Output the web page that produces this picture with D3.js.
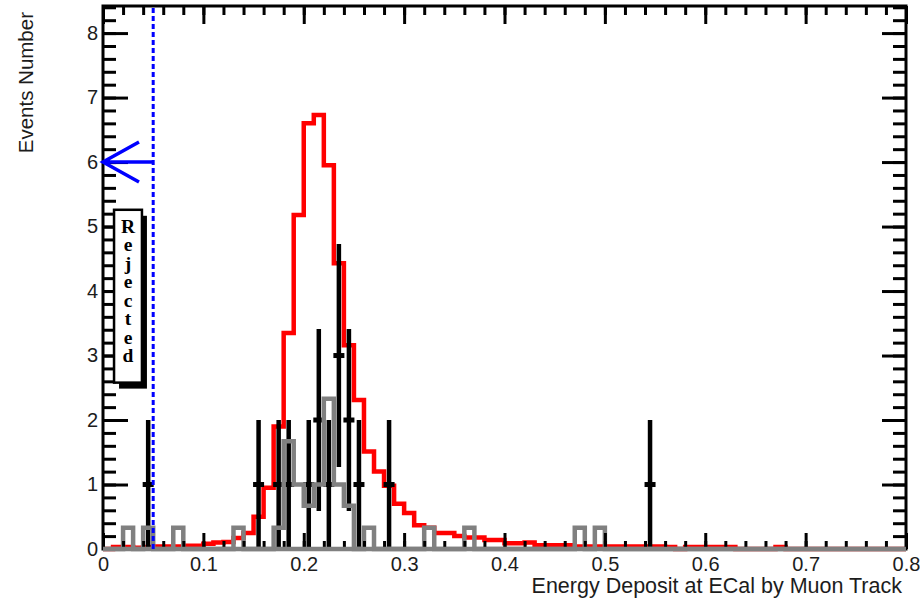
<!DOCTYPE html>
<html><head><meta charset="utf-8">
<script src="https://cdn.jsdelivr.net/npm/d3@7"></script>
<style>
body{margin:0;background:#fff}
svg{display:block}
text{font-family:"Liberation Sans",Arial,sans-serif;fill:#1c1c1c}
</style>
</head><body>
<svg id="chart" width="920" height="600"></svg>
<script>
// ---------------- data ----------------
const xTickValues = [0, 0.1, 0.2, 0.3, 0.4, 0.5, 0.6, 0.7, 0.8];
const xTickLabels = ["0", "0.1", "0.2", "0.3", "0.4", "0.5", "0.6", "0.7", "0.8"];
const yTickValues = [0, 1, 2, 3, 4, 5, 6, 7, 8];
const yTickLabels = ["0", "1", "2", "3", "4", "5", "6", "7", "8"];

// signal MC (red), bin width 0.01, bins starting at 0.00 ... 0.79
const signalValues = [
  0, 0.03, 0.03, 0.02, 0.03, 0.04, 0.04, 0.04, 0.05, 0.05,
  0.08, 0.10, 0.11, 0.17, 0.25, 0.50, 0.95, 1.90, 3.35, 5.18,
  6.60, 6.73, 5.95, 4.43, 3.16, 2.31, 1.51, 1.20, 0.98, 0.70,
  0.56, 0.37, 0.33, 0.25, 0.25, 0.20, 0.18, 0.18, 0.14, 0.14,
  0.09, 0.09, 0.10, 0.06, 0.06, 0.06, 0.06, 0.04, 0.04, 0.04,
  0.04, 0.04, 0.04, 0.04, 0.04, 0.04, 0.03, 0, 0.03, 0.03,
  0.03, 0.03, 0.03, 0, 0, 0, 0, 0.03, 0, 0,
  0, 0, 0, 0, 0, 0, 0, 0, 0, 0
];
// background MC (grey), bin width 0.01, bins starting at 0.00 ... 0.79
const backgroundValues = [
  0, 0, 0.33, 0, 0.33, 0, 0, 0.33, 0, 0,
  0, 0, 0, 0.33, 0, 0, 0, 0.33, 1.67, 1.00,
  0.67, 1.00, 2.33, 1.00, 0.67, 0, 0.33, 0, 0, 0,
  0, 0, 0.33, 0, 0, 0, 0.33, 0, 0, 0,
  0, 0, 0, 0, 0, 0, 0, 0.33, 0, 0.33,
  0, 0, 0, 0, 0, 0, 0, 0, 0, 0,
  0, 0, 0, 0, 0, 0, 0, 0, 0, 0,
  0, 0, 0, 0, 0, 0, 0, 0, 0, 0
];
// data points (black)
const dataX   = [0.045, 0.155, 0.175, 0.185, 0.205, 0.215, 0.225, 0.235, 0.245, 0.255, 0.285, 0.545];
const dataY   = [1, 1, 1, 1, 1, 2, 1, 3, 2, 1, 1, 1];
const dataErr = [1, 1, 1, 1, 1, 1.41, 1, 1.73, 1.41, 1, 1, 1];

const cutValue = 0.05;
const arrowLevel = 6;
const rejectedLabel = "Rejected";
const xTitle = "Energy Deposit at ECal by Muon Track";
const yTitle = "Events Number";

// ---------------- layout ----------------
const binWidth = 0.01;
const svg = d3.select("#chart");
const x = d3.scaleLinear().domain([0, 0.8]).range([103, 906]);
const y = d3.scaleLinear().domain([0, 8.42]).range([549, 6]);

function histPoints(values) {
  const pts = [[0, 0]];
  values.forEach((v, i) => pts.push([i * binWidth, v]));
  pts.push([values.length * binWidth, values[values.length - 1]]);
  pts.push([values.length * binWidth, 0]);
  return pts;
}
const stepLine = d3.line().x(d => x(d[0])).y(d => y(d[1])).curve(d3.curveStepAfter);

// signal (red)
svg.append("path").attr("d", stepLine(histPoints(signalValues)))
  .attr("fill", "none").attr("stroke", "#ff0000").attr("stroke-width", 4.5);

// data error bars (black)
const pts = dataX.map((d, i) => ({x: d, y: dataY[i], e: dataErr[i]}));
svg.append("g").selectAll("line").data(pts).join("line")
  .attr("x1", d => x(d.x)).attr("x2", d => x(d.x))
  .attr("y1", d => y(Math.max(0, d.y - d.e))).attr("y2", d => y(d.y + d.e))
  .attr("stroke", "#000").attr("stroke-width", 4.5);
svg.append("g").selectAll("rect").data(pts).join("rect")
  .attr("x", d => x(d.x) - 5.5).attr("y", d => y(d.y) - 2.5)
  .attr("width", 11).attr("height", 5).attr("fill", "#000");

// background (grey)
svg.append("path").attr("d", stepLine(histPoints(backgroundValues)))
  .attr("fill", "none").attr("stroke", "#808080").attr("stroke-width", 4.5);

// frame
svg.append("rect").attr("x", x(0)).attr("y", y(8.42))
  .attr("width", x(0.8) - x(0)).attr("height", y(0) - y(8.42))
  .attr("fill", "none").attr("stroke", "#000").attr("stroke-width", 3);

// axes
function styleAxis(g) {
  g.select(".domain").remove();
  g.selectAll(".tick line").attr("stroke", "#000").attr("stroke-width", 3);
}
const xMinor = d3.range(0, 0.8001, 0.02);
const yMinor = d3.range(0, 8.41, 0.2);
const labelFont = "'Liberation Sans',Arial,sans-serif";

// bottom
svg.append("g").attr("transform", `translate(0,${y(0)})`)
  .call(d3.axisBottom(x).tickValues(xMinor).tickFormat("").tickSizeInner(-8).tickSizeOuter(0))
  .call(styleAxis);
svg.append("g").attr("transform", `translate(0,${y(0)})`)
  .call(d3.axisBottom(x).tickValues(xTickValues).tickFormat((d, i) => xTickLabels[i])
    .tickSizeInner(-16).tickSizeOuter(0).tickPadding(8))
  .call(styleAxis)
  .call(g => g.selectAll("text").attr("font-size", 20).style("font-family", labelFont).style("fill", "#1c1c1c"));
// top
svg.append("g").attr("transform", `translate(0,${y(8.42)})`)
  .call(d3.axisTop(x).tickValues(xMinor).tickFormat("").tickSizeInner(-9).tickSizeOuter(0))
  .call(styleAxis);
svg.append("g").attr("transform", `translate(0,${y(8.42)})`)
  .call(d3.axisTop(x).tickValues(xTickValues).tickFormat("").tickSizeInner(-18).tickSizeOuter(0))
  .call(styleAxis);
// left
svg.append("g").attr("transform", `translate(${x(0)},0)`)
  .call(d3.axisLeft(y).tickValues(yMinor).tickFormat("").tickSizeInner(-13).tickSizeOuter(0))
  .call(styleAxis);
svg.append("g").attr("transform", `translate(${x(0)},0)`)
  .call(d3.axisLeft(y).tickValues(yTickValues).tickFormat((d, i) => yTickLabels[i])
    .tickSizeInner(-25).tickSizeOuter(0).tickPadding(5))
  .call(styleAxis)
  .call(g => g.selectAll("text").attr("font-size", 20).style("font-family", labelFont).style("fill", "#1c1c1c"));
// right
svg.append("g").attr("transform", `translate(${x(0.8)},0)`)
  .call(d3.axisRight(y).tickValues(yMinor).tickFormat("").tickSizeInner(-13).tickSizeOuter(0))
  .call(styleAxis);
svg.append("g").attr("transform", `translate(${x(0.8)},0)`)
  .call(d3.axisRight(y).tickValues(yTickValues).tickFormat("").tickSizeInner(-24).tickSizeOuter(0))
  .call(styleAxis);

// grey baseline drawn over the axis line
svg.append("line").attr("x1", x(0)).attr("x2", x(0.8)).attr("y1", y(0)).attr("y2", y(0))
  .attr("stroke", "#808080").attr("stroke-width", 4.5);

// cut line (blue dashed) and arrow
svg.append("line").attr("x1", x(cutValue)).attr("x2", x(cutValue))
  .attr("y1", y(8.42) + 2).attr("y2", y(0))
  .attr("stroke", "#0000ff").attr("stroke-width", 3).attr("stroke-dasharray", "5,3");
const ay = y(arrowLevel);
svg.append("path")
  .attr("d", `M${x(cutValue)},${ay}H${x(0)}M${x(0) + 36},${ay - 20}L${x(0)},${ay}L${x(0) + 36},${ay + 20}`)
  .attr("fill", "none").attr("stroke", "#0000ff").attr("stroke-width", 3.5);

// "Rejected" pave with shadow
const bx0 = x(0.011), bx1 = x(0.0388), by0 = y(5.26), by1 = y(2.58);
svg.append("rect").attr("x", bx0 + 5).attr("y", by0 + 6).attr("width", bx1 - bx0).attr("height", by1 - by0).attr("fill", "#000");
svg.append("rect").attr("x", bx0).attr("y", by0).attr("width", bx1 - bx0).attr("height", by1 - by0)
  .attr("fill", "#fff").attr("stroke", "#000").attr("stroke-width", 2.5);
svg.append("text")
  .attr("x", (bx0 + bx1) / 2).attr("y", by0 + 6)
  .style("writing-mode", "vertical-rl").style("text-orientation", "upright")
  .style("letter-spacing", "-2.5px")
  .style("font-family", "'Liberation Serif','Times New Roman',serif").style("font-weight", "bold")
  .attr("font-size", 19.5).style("fill", "#000")
  .text(rejectedLabel);

// titles
svg.append("text").attr("x", 902).attr("y", 593).attr("text-anchor", "end")
  .attr("font-size", 21.5).text(xTitle);
svg.append("text").attr("transform", "translate(33,12) rotate(-90)").attr("text-anchor", "end")
  .attr("font-size", 20.5).text(yTitle);
</script>
</body></html>
